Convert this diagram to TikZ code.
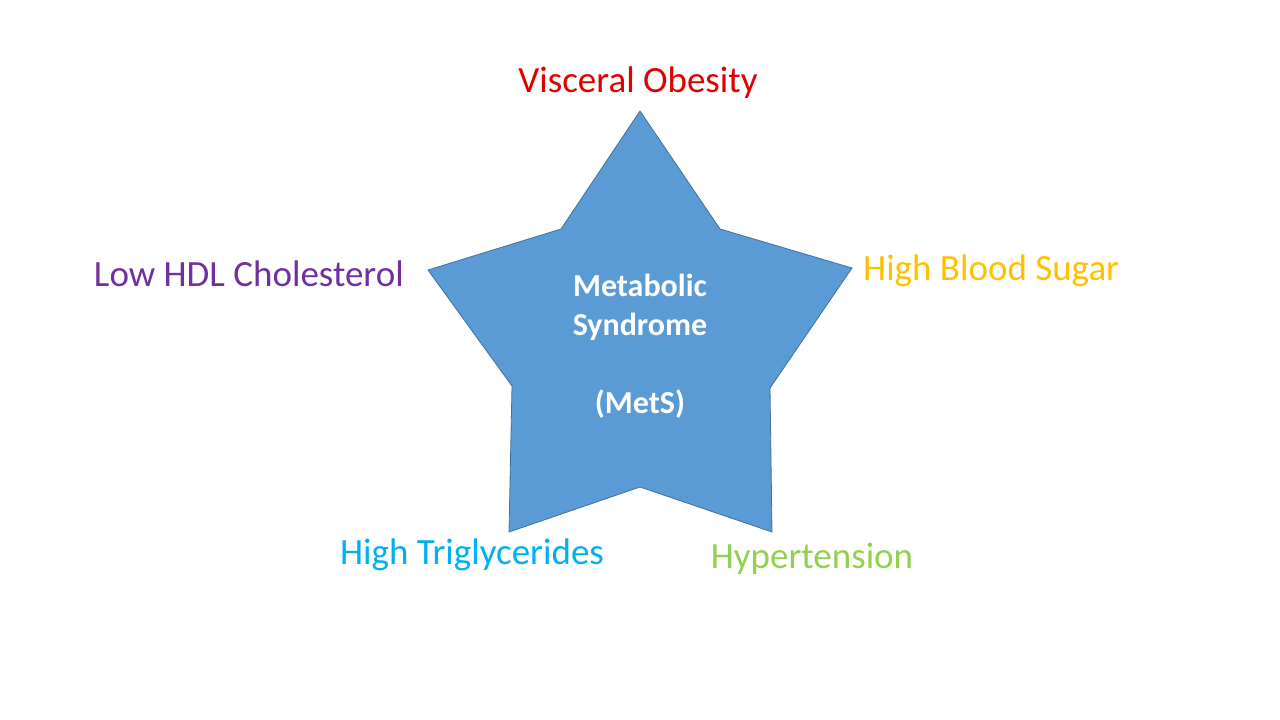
\documentclass[tikz,border=0pt]{standalone}
\usepackage{fontspec}
\setmainfont{Carlito}
\definecolor{starfill}{HTML}{5B9BD5}
\definecolor{starline}{HTML}{41719C}
\definecolor{cred}{HTML}{E00000}
\definecolor{cyel}{HTML}{FFC000}
\definecolor{cpur}{HTML}{7030A0}
\definecolor{cblue}{HTML}{00B0F0}
\definecolor{cgreen}{HTML}{92D050}
\begin{document}
\begin{tikzpicture}[x=1pt,y=-1pt,
  lab/.style={font=\fontsize{37}{44}\selectfont, inner sep=0pt}]
\useasboundingbox (0,0) rectangle (1280,720);
\draw[fill=starfill, draw=starline, line width=0.8pt]
  (640,111) -- (720,229) -- (852,268) -- (770,388) -- (772,532) -- (640,487)
  -- (509,532) -- (512,386) -- (428,270) -- (561,229) -- cycle;
\node[font=\bfseries\fontsize{32}{39}\selectfont, text=white, align=center] (c) at (640,346)
  {Metabolic\\Syndrome\\[0pt]\\(MetS)};
\node[lab, text=cred] (vo) at (638,83) {Visceral Obesity};
\node[lab, text=cyel, anchor=west] (bs) at (863,271) {High Blood Sugar};
\node[lab, text=cpur, anchor=east] (hdl) at (404,274) {Low HDL Cholesterol};
\node[lab, text=cblue] (tg) at (472,555) {High Triglycerides};
\node[lab, text=cgreen] (ht) at (812,559) {Hypertension};
\end{tikzpicture}
\end{document}
